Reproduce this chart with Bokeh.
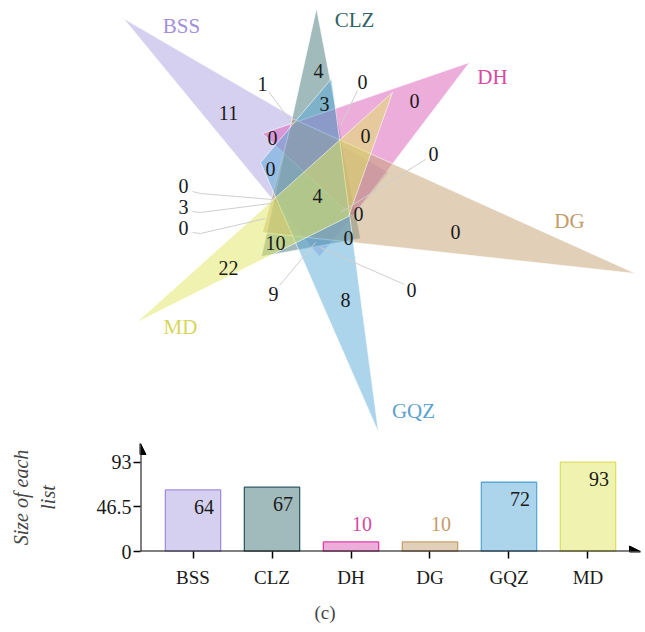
from bokeh.plotting import figure
from bokeh.models import (Range1d, FactorRange, FixedTicker, NumeralTickFormatter,
                          Arrow, NormalHead, Title)
from bokeh.embed import file_html
from bokeh.resources import INLINE
from bokeh.core.properties import value

# ---------------- data ----------------
set_names = ["BSS", "CLZ", "DH", "DG", "GQZ", "MD"]
set_sizes = [64, 67, 10, 10, 72, 93]
region_counts = [4, 1, 11, 3, 0, 0, 0, 0, 0, 0, 4, 0, 3, 0, 0, 0, 0, 10, 22, 9, 0, 8]
y_ticks = [0, 46.5, 93]

# ---------------- styles / geometry ----------------
FONT = "Liberation Serif"
set_fill = ["#ada1e1", "#44767a", "#dc5cb8", "#c4a070", "#5aaad8", "#e0e860"]
set_text = ["#a48fdc", "#2f6266", "#d9489f", "#c49a6a", "#5ba3cc", "#d6d65c"]
bar_line = ["#a48fdc", "#2f5f64", "#e040a8", "#c8a070", "#5aa8d8", "#e0e060"]

tri_x = [[123, 319, 388], [316, 261, 360], [469, 262, 352],
         [635, 292, 262], [331, 260, 378], [136, 392, 348]]
tri_y = [[18, 256, 172], [8, 256, 238], [62, 133, 216],
         [273, 118, 232], [78, 162, 432], [322, 92, 216]]
set_label_x = [181, 354, 492, 569, 413, 180]
set_label_y = [25, 19, 76, 220, 410, 326]
region_x = [318, 262, 228, 324, 362, 414, 272, 365, 433, 270, 317,
            183, 183, 183, 358, 455, 348, 275, 228, 273, 411, 345]
region_y = [70, 83, 112, 103, 81, 100, 137, 135, 153, 168, 195,
            185, 206, 227, 213, 231, 237, 242, 267, 293, 289, 299]
leader_xs = [[268, 292], [357, 340], [425, 340], [192, 200, 272],
             [192, 200, 270], [192, 200, 265], [279, 315], [404, 320]]
leader_ys = [[91, 123], [90, 125], [159, 212], [191, 193, 199],
             [211, 212, 203], [232, 233, 218], [285, 242], [284, 247]]

W = 644
H1 = 438
H2 = 193

# ---------------- Venn diagram ----------------
p1 = figure(width=W, height=H1, x_range=Range1d(0, W), y_range=Range1d(H1, 0),
            output_backend="svg", toolbar_location=None, min_border=0)
p1.axis.visible = False
p1.grid.visible = False
p1.outline_line_color = None

p1.patches(xs=tri_x, ys=tri_y, fill_color=set_fill, fill_alpha=0.5,
           line_color="white", line_alpha=0.6, line_width=1)
p1.multi_line(xs=leader_xs, ys=leader_ys, line_color="#cfcfcf", line_width=1)
p1.text(x=region_x, y=region_y, text=[str(v) for v in region_counts],
        text_font=value(FONT), text_font_size="20px", text_color="#1a1a1a",
        text_align="center", text_baseline="middle")
p1.text(x=set_label_x, y=set_label_y, text=set_names, text_color=set_text,
        text_font=value(FONT), text_font_size="21px",
        text_align="center", text_baseline="middle")

# ---------------- bar chart ----------------
ymax = 112.3
pad = 0.0549
x0 = -6 * pad / 2
x1 = 6 - x0
p2 = figure(width=W, height=H2,
            x_range=FactorRange(factors=set_names, range_padding=pad),
            y_range=Range1d(0, ymax), output_backend="svg", toolbar_location=None,
            min_border_left=140, min_border_right=4, min_border_top=5, min_border_bottom=79)
p2.grid.visible = False
p2.outline_line_color = None

p2.vbar(x=set_names, top=set_sizes, width=0.70, fill_color=set_fill, fill_alpha=0.5,
        line_color=bar_line, line_width=1.3)

big = max(set_sizes)
inside = [v >= 0.2 * big for v in set_sizes]
p2.text(x=set_names, y=set_sizes, text=[str(v) for v in set_sizes],
        x_offset=11, y_offset=[17 if i else -18 for i in inside],
        text_color=["#1a1a1a" if i else c for i, c in zip(inside, set_text)],
        text_font=value(FONT), text_font_size="20px",
        text_align="center", text_baseline="middle")

for ax in (p2.xaxis[0], p2.yaxis[0]):
    ax.axis_line_color = None
    ax.major_tick_in = 0
    ax.major_tick_out = 7
    ax.major_tick_line_width = 1.5
    ax.minor_tick_line_color = None
    ax.major_label_text_font = FONT
    ax.major_label_text_color = "#1a1a1a"

p2.xaxis.major_label_standoff = 8
p2.xaxis.major_label_text_font_size = "19px"
p2.yaxis.major_label_text_font_size = "20px"
p2.yaxis.ticker = FixedTicker(ticks=y_ticks)
p2.yaxis.formatter = NumeralTickFormatter(format="0.[0]")
p2.yaxis.major_label_standoff = 2
p2.yaxis.axis_label = "Size of each\nlist"
p2.yaxis.axis_label_text_font = FONT
p2.yaxis.axis_label_text_font_style = "italic"
p2.yaxis.axis_label_text_font_size = "20px"
p2.yaxis.axis_label_standoff = 35

p2.add_layout(Arrow(x_start=x0, y_start=0, x_end=x0, y_end=ymax, line_width=2,
                    end=NormalHead(size=11, fill_color="black", line_color="black")))
p2.add_layout(Arrow(x_start=x0 - 0.1, y_start=0, x_end=x1, y_end=0, line_width=2,
                    end=NormalHead(size=11, fill_color="black", line_color="black")))

p2.add_layout(Title(text="(c)", align="left", offset=174, text_font=FONT,
                    text_font_size="19px", text_font_style="normal", standoff=18), "below")

open("out.html", "w").write(file_html([p1, p2], INLINE))
